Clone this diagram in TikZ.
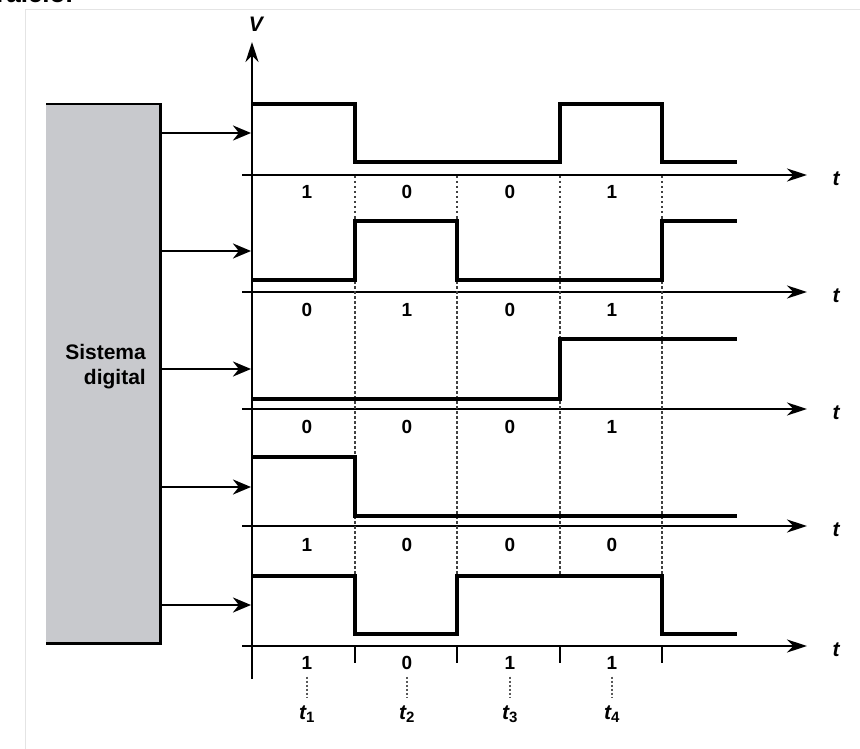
\documentclass[tikz,border=0pt]{standalone}
\usepackage{fontspec}
\setmainfont{Liberation Sans}
\usetikzlibrary{arrows.meta}
\definecolor{boxgray}{RGB}{200,201,205}
\definecolor{framegray}{RGB}{228,228,228}
\begin{document}
\begin{tikzpicture}[x=1pt,y=-1pt,
  sig/.style={line width=3.4pt,line join=miter},
  axis/.style={line width=2.2pt,-{Stealth[length=20pt,width=13pt]}},
  feed/.style={line width=2.6pt,-{Stealth[length=18pt,width=15pt]}},
  grid/.style={line width=1.6pt,dash pattern=on 2.5pt off 2.5pt,black!75},
  bit/.style={font=\fontsize{19}{21}\selectfont\bfseries,inner sep=0pt},
  tlab/.style={font=\fontsize{21}{23}\selectfont\bfseries\itshape,inner sep=0pt}]
\useasboundingbox (0,0) rectangle (860,749);
% fragment of caption cut at top
\node[anchor=base east,inner sep=0pt,font=\fontsize{26}{28}\selectfont\bfseries] (cap) at (73,3) {paralelo.};
% frame
\draw[framegray,line width=1pt] (25,749) -- (25,10) -- (860,10);
% system box
\node[draw=none,fill=boxgray,minimum width=114pt,minimum height=539pt,inner sep=0pt,anchor=north west] (sys) at (46,104) {};
\draw[line width=2.2pt] (sys.north west) -- (sys.north east) -- (sys.south east) -- (sys.south west);
\node[align=right,inner sep=0pt,font=\fontsize{21}{25}\selectfont\bfseries,anchor=east] (lab) at (146,367) {Sistema\\digital};
% vertical axis
\coordinate (vb) at (252,679);
\coordinate (vt) at (252,42);
\draw[axis] (vb) -- (vt);
\node[tlab] (V) at (256,24) {V};
% horizontal axes
\foreach \y/\n in {175/1,292/2,409/3,526/4,646/5}{
  \coordinate (a\n) at (242,\y);
  \coordinate (b\n) at (807,\y);
  \draw[axis] (a\n) -- (b\n);
  \node[tlab] (t\n) at (836,\y+4) {t};
}
% dotted vertical grid
\foreach \x in {355,457,560,662}{
  \coordinate (g\x a) at (\x,176);
  \coordinate (g\x b) at (\x,576);
  \draw[grid] (g\x a) -- (g\x b);
  \coordinate (k\x a) at (\x,646);
  \coordinate (k\x b) at (\x,663);
  \draw[line width=2.2pt] (k\x a) -- (k\x b);
}
% feed arrows
\foreach \y/\n in {133/1,251/2,369/3,487/4,605/5}{
  \coordinate (f\n) at (sys.east |- {(0,\y)});
  \coordinate (e\n) at (251,\y);
  \draw[feed] (f\n) -- (e\n);
}
% signals
\draw[sig] (252,104) -- (355,104) -- (355,162) -- (560,162) -- (560,104) -- (662,104) -- (662,162) -- (737,162);
\draw[sig] (252,280) -- (355,280) -- (355,221) -- (457,221) -- (457,280) -- (662,280) -- (662,221) -- (737,221);
\draw[sig] (252,399) -- (560,399) -- (560,339) -- (737,339);
\draw[sig] (252,457) -- (355,457) -- (355,516) -- (737,516);
\draw[sig] (252,576) -- (355,576) -- (355,634) -- (457,634) -- (457,576) -- (662,576) -- (662,634) -- (737,634);
% bit labels
\foreach \y/\r/\a/\b/\c/\d in {192/1/1/0/0/1,310/2/0/1/0/1,427/3/0/0/0/1,545/4/1/0/0/0,663/5/1/0/1/1}{
  \node[bit] (d\r a) at (307,\y) {\a};
  \node[bit] (d\r b) at (407,\y) {\b};
  \node[bit] (d\r c) at (510,\y) {\c};
  \node[bit] (d\r d) at (612,\y) {\d};
}
% time labels
\foreach \x/\i/\c in {307/1/a,407/2/b,510/3/c,612/4/d}{
  \node[tlab] (T\i) at (\x,714) {t\textsubscript{\upshape\fontsize{15}{16}\selectfont\i}};
  \draw[line width=1.6pt,dash pattern=on 2pt off 2pt,black!65] (d5\c.south) ++(0,7) -- (\x,698);
}
\end{tikzpicture}
\end{document}
